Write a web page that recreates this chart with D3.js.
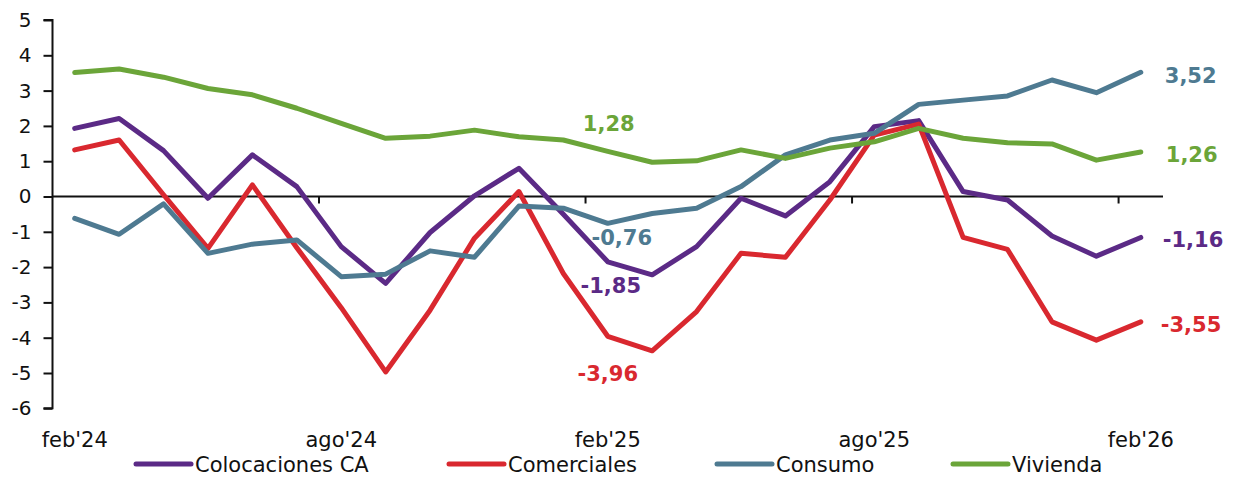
<!DOCTYPE html>
<html>
<head>
<meta charset="utf-8">
<script src="https://cdn.jsdelivr.net/npm/d3@7/dist/d3.min.js"></script>
<style>
  html, body { margin: 0; padding: 0; background: #fff; }
  svg { display: block; }
  text { font-family: "DejaVu Sans", Verdana, sans-serif; }
</style>
</head>
<body>
<svg id="chart" width="1237" height="477"></svg>
<script>
// ---- Data ----
const months = ["feb'24","mar'24","abr'24","may'24","jun'24","jul'24","ago'24","sep'24","oct'24","nov'24","dic'24","ene'25",
                "feb'25","mar'25","abr'25","may'25","jun'25","jul'25","ago'25","sep'25","oct'25","nov'25","dic'25","ene'26","feb'26"];
const tickLabels = ["feb'24","ago'24","feb'25","ago'25","feb'26"];
const yTicks = [5,4,3,2,1,0,-1,-2,-3,-4,-5,-6];
const seriesNames = ["Colocaciones CA","Comerciales","Consumo","Vivienda"];
const colocaciones = [1.93,2.21,1.30,-0.05,1.18,0.28,-1.42,-2.46,-1.02,0.02,0.80,-0.50,-1.85,-2.22,-1.42,-0.05,-0.55,0.42,1.98,2.15,0.14,-0.10,-1.12,-1.69,-1.16];
const comerciales  = [1.32,1.60,0.05,-1.47,0.33,-1.45,-3.15,-4.97,-3.22,-1.18,0.14,-2.18,-3.96,-4.37,-3.26,-1.61,-1.72,-0.10,1.74,2.05,-1.16,-1.50,-3.55,-4.07,-3.55];
const consumo      = [-0.62,-1.07,-0.21,-1.61,-1.35,-1.23,-2.27,-2.20,-1.54,-1.72,-0.27,-0.33,-0.76,-0.48,-0.33,0.28,1.18,1.60,1.79,2.61,2.73,2.85,3.30,2.94,3.52];
const vivienda     = [3.51,3.61,3.38,3.06,2.88,2.50,2.07,1.65,1.71,1.88,1.69,1.60,1.28,0.97,1.01,1.32,1.08,1.37,1.55,1.93,1.65,1.52,1.49,1.03,1.26];
const colors = ["#5B2A86","#D9282F","#4E7A91","#6BA539"];
// Data labels: [series index, month index, text]
const dataLabels = [
  [3, 12, "1,28"], [2, 12, "-0,76"], [0, 12, "-1,85"], [1, 12, "-3,96"],
  [2, 24, "3,52"], [3, 24, "1,26"], [0, 24, "-1,16"], [1, 24, "-3,55"]
];

const seriesValues = [colocaciones, comerciales, consumo, vivienda];

// ---- Layout ----
const svg = d3.select("#chart");
const plotLeft = 52.5, plotRight = 1163, plotTop = 20, plotBottom = 408.3;

const x = d3.scaleBand().domain(months).range([plotLeft, plotRight]).paddingInner(0).paddingOuter(0);
const xc = m => x(m) + x.bandwidth() / 2;
const y = d3.scaleLinear().domain([-6, 5]).range([plotBottom, plotTop]);

// Y axis
const yAxis = d3.axisLeft(y).tickValues(yTicks).tickSize(9).tickPadding(12).tickFormat(d => d);
const gy = svg.append("g").attr("transform", `translate(${plotLeft},0)`).call(yAxis);
gy.select(".domain").attr("stroke", "#111").attr("stroke-width", 2).attr("d", `M-9,${y(5)}H0V${y(-6)}H-9`);
gy.selectAll(".tick line").attr("stroke", "#111").attr("stroke-width", 2);
gy.selectAll(".tick text").attr("font-size", 20).attr("fill", "#111").attr("font-family", "DejaVu Sans, Verdana, sans-serif");

// X axis at zero line
const boundaryTicks = months.filter((m, i) => i > 0 && i % 6 === 0);
const gx = svg.append("g");
gx.append("line").attr("x1", plotLeft).attr("x2", plotRight).attr("y1", y(0)).attr("y2", y(0))
  .attr("stroke", "#111").attr("stroke-width", 2);
gx.selectAll("line.tk").data(boundaryTicks).enter().append("line").attr("class", "tk")
  .attr("x1", d => x(d)).attr("x2", d => x(d)).attr("y1", y(0)).attr("y2", y(0) + 7)
  .attr("stroke", "#111").attr("stroke-width", 2);
// x labels at bottom
svg.append("g").selectAll("text").data(tickLabels).enter().append("text")
  .attr("x", d => xc(d)).attr("y", 447).attr("text-anchor", "middle")
  .attr("font-size", 21).attr("fill", "#111").text(d => d);

// Lines
const line = d3.line().x((d, i) => xc(months[i])).y(d => y(d));
seriesValues.forEach((vals, si) => {
  svg.append("path").datum(vals).attr("d", line)
    .attr("fill", "none").attr("stroke", colors[si]).attr("stroke-width", 5)
    .attr("stroke-linejoin", "round").attr("stroke-linecap", "round");
});

// Data labels (positions offset from the data point)
const labelOffsets = {
  "3-12": [1, -28], "2-12": [14, 14], "0-12": [3, 24], "1-12": [0, 37],
  "2-24": [24, 3], "3-24": [25, 3], "0-24": [22, 2], "1-24": [20, 3]
};
svg.append("g").selectAll("text").data(dataLabels).enter().append("text")
  .attr("x", d => xc(months[d[1]]) + labelOffsets[d[0] + "-" + d[1]][0])
  .attr("y", d => y(seriesValues[d[0]][d[1]]) + labelOffsets[d[0] + "-" + d[1]][1])
  .attr("dy", "0.35em")
  .attr("text-anchor", d => d[1] === 24 ? "start" : "middle")
  .attr("font-size", 21).attr("font-weight", "bold")
  .attr("fill", d => colors[d[0]]).text(d => d[2]);

// Legend
const legendX = [136, 449, 717, 953];
const lg = svg.append("g");
seriesNames.forEach((name, i) => {
  lg.append("line").attr("x1", legendX[i]).attr("x2", legendX[i] + 55).attr("y1", 464).attr("y2", 464)
    .attr("stroke", colors[i]).attr("stroke-width", 5).attr("stroke-linecap", "round");
  lg.append("text").attr("x", legendX[i] + 59).attr("y", 471.5).attr("font-size", 21).attr("fill", "#111").text(name);
});
</script>
</body>
</html>
